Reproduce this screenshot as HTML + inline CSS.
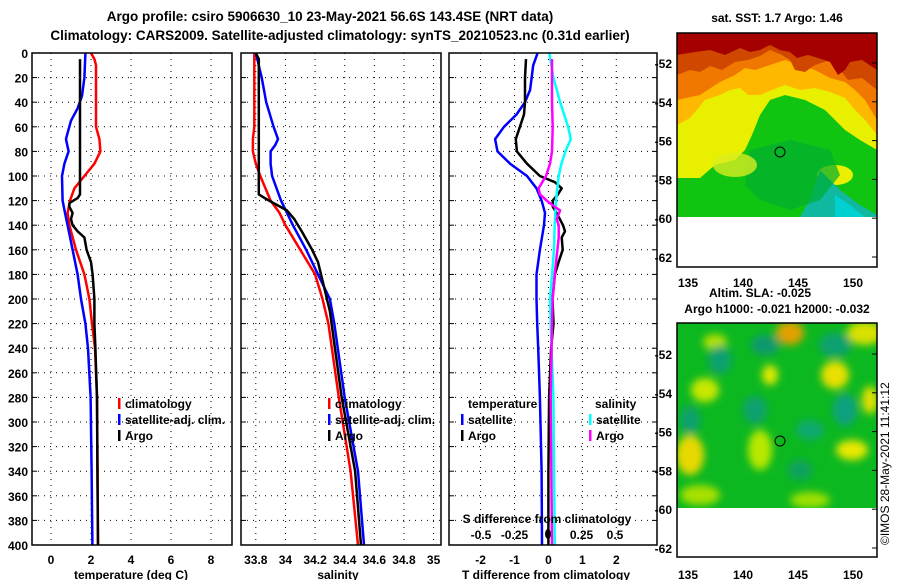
<!DOCTYPE html>
<html><head><meta charset="utf-8">
<style>
body{margin:0;background:#fff;}
svg{display:block;font-family:"Liberation Sans",sans-serif;font-weight:bold;}
text{fill:#000;}
</style></head>
<body>
<svg id="chart" width="900" height="580" viewBox="0 0 900 580" xmlns="http://www.w3.org/2000/svg">
<defs>
<filter id="blur4" x="-20%" y="-20%" width="140%" height="140%"><feGaussianBlur stdDeviation="4"/></filter>
<clipPath id="m1clip"><rect x="677" y="33" width="200" height="184"/></clipPath>
<clipPath id="m2clip"><rect x="677" y="323" width="200" height="185"/></clipPath>
</defs>
<text x="330" y="21" font-size="13.5" text-anchor="middle">Argo profile: csiro 5906630_10 23-May-2021 56.6S 143.4SE (NRT data)</text>
<text x="340" y="40" font-size="13.5" text-anchor="middle">Climatology: CARS2009. Satellite-adjusted climatology: synTS_20210523.nc (0.31d earlier)</text>

<!-- SST map -->
<g>
<text x="777" y="22" font-size="12" text-anchor="middle">sat. SST: 1.7 Argo: 1.46</text>
<g clip-path="url(#m1clip)">
<rect x="677" y="33" width="200" height="184" fill="#11c411"/>
<path d="M677 33 H877 V150 L860 140 L845 130 L825 110 L805 100 L785 95 L770 100 L760 115 L752 135 L745 150 L735 160 L715 165 L700 178 L677 178 Z" fill="#e8f000"/>
<path d="M677 33 H877 V135 L865 120 L855 110 L845 98 L830 92 L815 88 L800 90 L785 85 L772 90 L760 95 L748 95 L740 88 L730 90 L720 95 L705 100 L690 118 L677 125 Z" fill="#ffb800"/>
<path d="M677 33 H877 V120 L865 100 L855 90 L845 82 L830 78 L815 70 L800 65 L785 60 L770 65 L755 70 L745 68 L735 75 L720 82 L700 95 L677 100 Z" fill="#f07800"/>
<path d="M677 33 H877 V90 L862 78 L848 80 L840 70 L830 60 L815 65 L805 72 L795 70 L790 60 L782 55 L770 50 L760 56 L748 60 L735 62 L722 70 L710 66 L700 72 L690 70 L677 75 Z" fill="#d04800"/>
<path d="M677 33 H877 V70 L862 60 L850 62 L845 70 L838 75 L830 62 L818 58 L808 55 L797 58 L790 52 L780 50 L770 45 L760 50 L750 52 L740 48 L725 55 L710 50 L695 52 L677 55 Z" fill="#a50000"/>
<ellipse cx="835" cy="175" rx="18" ry="10" fill="#e8f000"/>
<path d="M820 170 L840 190 L860 205 L877 215 V217 H800 L810 200 Z" fill="#10b8a0"/>
<path d="M835 195 L850 205 L865 217 H835 Z" fill="#00d0d0"/>
<path d="M750 150 L790 140 L830 150 L840 175 L820 200 L790 210 L760 200 L745 185 Z" fill="#00ae30" opacity="0.7"/>
<ellipse cx="735" cy="165" rx="22" ry="12" fill="#d8ec20" opacity="0.8"/>
</g>
<rect x="677" y="217" width="200" height="50" fill="#fff"/>
<rect x="677" y="33" width="200" height="234" fill="none" stroke="#000" stroke-width="1.5"/>
<circle cx="780" cy="152" r="5" fill="none" stroke="#000"/>
</g>

<!-- SLA map -->
<g>
<text x="760" y="297" font-size="12" text-anchor="middle">Altim. SLA: -0.025</text>
<text x="777" y="313" font-size="12" text-anchor="middle">Argo h1000: -0.021 h2000: -0.032</text>
<g clip-path="url(#m2clip)">
<rect x="677" y="323" width="200" height="185" fill="#0cb820"/>
<g filter="url(#blur4)">
<ellipse cx="790" cy="333" rx="14" ry="12" fill="#e0a000"/>
<ellipse cx="865" cy="333" rx="18" ry="12" fill="#d8e000"/>
<ellipse cx="705" cy="390" rx="14" ry="12" fill="#c8e800"/>
<ellipse cx="690" cy="455" rx="14" ry="20" fill="#e8d800"/>
<ellipse cx="770" cy="375" rx="8" ry="10" fill="#e0e800"/>
<ellipse cx="835" cy="375" rx="14" ry="14" fill="#e8e000"/>
<ellipse cx="870" cy="400" rx="8" ry="14" fill="#e0e000"/>
<ellipse cx="852" cy="450" rx="16" ry="10" fill="#e8e800"/>
<ellipse cx="760" cy="450" rx="12" ry="20" fill="#b8e800"/>
<ellipse cx="715" cy="342" rx="12" ry="8" fill="#b0e000"/>
<ellipse cx="700" cy="495" rx="20" ry="10" fill="#a8e000"/>
<ellipse cx="810" cy="500" rx="20" ry="8" fill="#a0e000"/>
<ellipse cx="720" cy="360" rx="12" ry="14" fill="#10a070"/>
<ellipse cx="765" cy="345" rx="14" ry="10" fill="#109870"/>
<ellipse cx="835" cy="345" rx="16" ry="12" fill="#10a070"/>
<ellipse cx="845" cy="410" rx="12" ry="16" fill="#10a080"/>
<ellipse cx="755" cy="410" rx="12" ry="14" fill="#10a070"/>
<ellipse cx="810" cy="430" rx="14" ry="10" fill="#10a870"/>
<ellipse cx="690" cy="420" rx="10" ry="14" fill="#10a070"/>
<ellipse cx="800" cy="470" rx="12" ry="10" fill="#10a060"/>
</g>
</g>
<rect x="677" y="508" width="200" height="49" fill="#fff"/>
<rect x="677" y="323" width="200" height="234" fill="none" stroke="#000" stroke-width="1.5"/>
<circle cx="780" cy="441" r="5" fill="none" stroke="#000"/>
</g>
<text transform="translate(889,545) rotate(-90)" font-size="12" font-weight="normal">©IMOS 28-May-2021 11:41:12</text>

<g id="plots"></g>
</svg>
<script>
// ---- data ----
const tempClimDepth=[0,5,10,30,60,70,80,90,100,110,120,130,140,160,180,200,220,240,280,340,400];
const tempClimVal=[2.0,2.17,2.25,2.25,2.25,2.42,2.47,2.17,1.67,1.17,0.95,0.83,0.92,1.25,1.67,1.92,2.05,2.2,2.3,2.33,2.35];
const tempSatDepth=[0,20,35,45,55,65,70,80,90,100,120,130,140,160,180,200,220,240,280,340,400];
const tempSatVal=[1.72,1.67,1.55,1.33,1.0,0.83,0.75,0.88,0.67,0.55,0.58,0.7,0.83,1.08,1.33,1.5,1.72,1.85,1.98,2.03,2.07];
const tempArgoDepth=[5,40,115,118,122,125,130,135,140,145,150,160,170,180,200,220,240,280,340,400];
const tempArgoVal=[1.45,1.45,1.45,1.33,0.92,0.92,1.08,1.0,1.08,1.33,1.67,1.78,2.0,2.08,2.17,2.17,2.22,2.3,2.32,2.35];

const salClimDepth=[0,10,60,70,80,90,100,120,130,140,160,180,200,220,280,340,400];
const salClimVal=[33.79,33.79,33.79,33.78,33.78,33.8,33.83,33.9,33.96,34.0,34.1,34.2,34.25,34.29,34.36,34.44,34.49];
const salSatDepth=[0,20,40,60,70,75,80,90,100,120,140,160,180,200,220,280,340,400];
const salSatVal=[33.8,33.84,33.87,33.92,33.95,33.93,33.9,33.9,33.91,33.97,34.05,34.14,34.22,34.3,34.33,34.4,34.49,34.53];
const salArgoDepth=[0,5,115,118,122,128,135,145,160,170,190,210,280,340,400];
const salArgoVal=[33.8,33.82,33.82,33.86,33.92,34.01,34.06,34.11,34.18,34.22,34.26,34.3,34.38,34.47,34.51];

const dTSatDepth=[0,10,30,40,50,60,70,80,90,100,110,120,130,140,160,180,200,220,240,280,340,400];
const dTSatVal=[-0.32,-0.45,-0.54,-0.69,-0.94,-1.31,-1.57,-1.5,-1.13,-0.63,-0.35,-0.2,-0.1,-0.13,-0.25,-0.35,-0.35,-0.33,-0.3,-0.25,-0.2,-0.19];
const dTArgoDepth=[5,20,40,50,60,70,80,90,100,105,110,115,120,125,130,140,145,150,160,170,180,200,220,240,280,340,400];
const dTArgoVal=[-0.66,-0.69,-0.69,-0.72,-0.84,-0.96,-0.93,-0.63,-0.25,0.19,0.39,0.28,0.13,0.13,0.24,0.43,0.49,0.39,0.42,0.3,0.19,0.12,0.15,0.08,0.02,0.0,0.0];
const dSSatDepth=[0,20,40,60,70,80,90,100,120,140,160,180,200,220,280,400];
const dSSatVal=[0.01,0.04,0.09,0.15,0.17,0.13,0.1,0.08,0.06,0.05,0.045,0.03,0.015,0.02,0.04,0.05];
const dSArgoDepth=[5,40,60,80,90,100,110,115,120,125,128,135,140,150,160,180,200,220,280,400];
const dSArgoVal=[0.03,0.03,0.035,0.03,0.015,-0.015,-0.07,-0.06,-0.01,0.05,0.09,0.065,0.08,0.08,0.07,0.05,0.035,0.03,0.02,0.03];

const depthTicks=[0,20,40,60,80,100,120,140,160,180,200,220,240,260,280,300,320,340,360,380,400];
const tempTicks=[0,2,4,6,8];
const salTicks=[33.8,34,34.2,34.4,34.6,34.8,35];
const salTickLabels=["33.8","34","34.2","34.4","34.6","34.8","35"];
const dTTicks=[-2,-1,0,1,2];
const dSTicks=[-0.5,-0.25,0.25,0.5];
const dSTickLabels=["-0.5","-0.25","0.25","0.5"];
const latTicks=[-52,-54,-56,-58,-60,-62];
const lonTicks=[135,140,145,150];

// ---- helpers ----
const NS="http://www.w3.org/2000/svg";
const root=document.getElementById('plots');
function mk(tag,attrs,parent){const e=document.createElementNS(NS,tag);for(const k in attrs)e.setAttribute(k,attrs[k]);(parent||root).appendChild(e);return e;}
const Y0=53,Y1=545;
function yD(d){return Y0+(d/400)*(Y1-Y0);}
function scaleX(x0,x1,d0,d1){return v=>x0+(v-d0)/(d1-d0)*(x1-x0);}
const P=[
 {x0:32,x1:232,sx:scaleX(32,232,-0.95,9.05)},
 {x0:241,x1:441,sx:scaleX(241,441,33.70,35.05)},
 {x0:449,x1:657,sx:scaleX(449,657,-2.93,3.2)}
];
const sxS=v=>548+134*v;

function frame(p,name){
  const g=mk('g',{});
  
  
  depthTicks.forEach(d=>{
    if(d>0&&d<400){const l=mk('line',{x1:p.x0,x2:p.x1,y1:yD(d),y2:yD(d),stroke:'#000','stroke-width':1,'stroke-dasharray':'1,5'},g);
    }
    const t=mk('line',{x1:p.x0,x2:p.x0+5,y1:yD(d),y2:yD(d),stroke:'#000','stroke-width':1},g);
    
  });
  return g;
}
function vgrid(g,xs){xs.forEach(x=>{const l=mk('line',{x1:x,x2:x,y1:Y0,y2:Y1,stroke:'#000','stroke-width':1,'stroke-dasharray':'1,5'},g);
  });}
function border(g,p){const r=mk('rect',{x:p.x0,y:Y0,width:p.x1-p.x0,height:Y1-Y0,fill:'none',stroke:'#000','stroke-width':1.5},g);
  }
function line(g,sx,ds,vs,color,w,name){
  const pts=ds.map((d,i)=>sx(vs[i]).toFixed(1)+','+yD(d).toFixed(1)).join(' ');
  const pl=mk('polyline',{points:pts,fill:'none',stroke:color,'stroke-width':w,'stroke-linejoin':'round'},g);
  
  
}
function txt(g,x,y,s,anchor,size,name){
  const t=mk('text',{x:x,y:y,'font-size':size||12,'text-anchor':anchor||'start'},g);t.textContent=s;
  
  
  return t;
}
function legend(g,x,y,color,label,name){
  const r=mk('rect',{x:x,y:y-10,width:2.5,height:11,fill:color},g);
  
  txt(g,x+7,y,label,'start',12,name);
}

depthTicks.forEach(d=>txt(root,28,yD(d)+5,String(d),'end',12,'depth-tick-label'));

let g1=frame(P[0],'temperature-panel');
vgrid(g1,tempTicks.map(P[0].sx));
line(g1,P[0].sx,tempClimDepth,tempClimVal,'#f00',2.5,'temp-climatology-line');
line(g1,P[0].sx,tempSatDepth,tempSatVal,'#00f',2.5,'temp-satellite-line');
line(g1,P[0].sx,tempArgoDepth,tempArgoVal,'#000',2.5,'temp-argo-line');
border(g1,P[0]);
tempTicks.forEach(v=>txt(g1,P[0].sx(v),564,String(v),'middle',12,'temp-tick-label'));
txt(g1,131,579,'temperature (deg C)','middle',12,'temp-axis-title');
legend(g1,118,408,'#f00','climatology','legend-climatology');
legend(g1,118,424,'#00f','satellite-adj. clim.','legend-satellite');
legend(g1,118,440,'#000','Argo','legend-argo');

let g2=frame(P[1],'salinity-panel');
vgrid(g2,salTicks.map(P[1].sx));
line(g2,P[1].sx,salClimDepth,salClimVal,'#f00',2.5,'sal-climatology-line');
line(g2,P[1].sx,salSatDepth,salSatVal,'#00f',2.5,'sal-satellite-line');
line(g2,P[1].sx,salArgoDepth,salArgoVal,'#000',2.5,'sal-argo-line');
border(g2,P[1]);
salTicks.forEach((v,i)=>txt(g2,P[1].sx(v),564,salTickLabels[i],'middle',12,'sal-tick-label'));
txt(g2,338,579,'salinity','middle',12,'sal-axis-title');
legend(g2,328,408,'#f00','climatology','legend-climatology');
legend(g2,328,424,'#00f','satellite-adj. clim.','legend-satellite');
legend(g2,328,440,'#000','Argo','legend-argo');

let g3=frame(P[2],'difference-panel');
vgrid(g3,dTTicks.map(P[2].sx));
line(g3,P[2].sx,dTSatDepth,dTSatVal,'#00f',2.5,'dt-satellite-line');
line(g3,P[2].sx,dTArgoDepth,dTArgoVal,'#000',2.5,'dt-argo-line');
line(g3,sxS,dSSatDepth,dSSatVal,'#0ff',2.5,'ds-satellite-line');
line(g3,sxS,dSArgoDepth,dSArgoVal,'#f0f',2.5,'ds-argo-line');
border(g3,P[2]);
depthTicks.forEach(d=>{const t=mk('line',{x1:P[2].x1-5,x2:P[2].x1,y1:yD(d),y2:yD(d),stroke:'#000'},g3);
  });
dTTicks.forEach(v=>txt(g3,P[2].sx(v),564,String(v),'middle',12,'dt-tick-label'));
txt(g3,546,579,'T difference from climatology','middle',12,'dt-axis-title');
txt(g3,468,408,'temperature','start',12,'legend-temperature-header');
txt(g3,595,408,'salinity','start',12,'legend-salinity-header');
legend(g3,461,424,'#00f','satellite','legend-t-satellite');
legend(g3,461,440,'#000','Argo','legend-t-argo');
legend(g3,589,424,'#0ff','satellite','legend-s-satellite');
legend(g3,589,440,'#f0f','Argo','legend-s-argo');
txt(g3,547,523,'S difference from climatology','middle',12,'ds-axis-title');
dSTicks.forEach((v,i)=>txt(g3,sxS(v),539,dSTickLabels[i],'middle',12,'ds-tick-label'));
const dot=mk('ellipse',{cx:sxS(0),cy:534,rx:3,ry:5,fill:'#000'},g3);


function mapAxes(top,labY){
  const latY=l=>top+30+(-52-l)*19.4;
  latTicks.forEach(l=>{txt(root,672,latY(l)+5,String(l),'end',12,'lat-tick-label');
    const t=mk('line',{x1:877,x2:872,y1:latY(l),y2:latY(l),stroke:'#000'});});
  lonTicks.forEach(l=>txt(root,688+(l-135)*11,labY,String(l),'middle',12,'lon-tick-label'));
}
mapAxes(33,287);
mapAxes(324,579);
</script>
</body></html>
